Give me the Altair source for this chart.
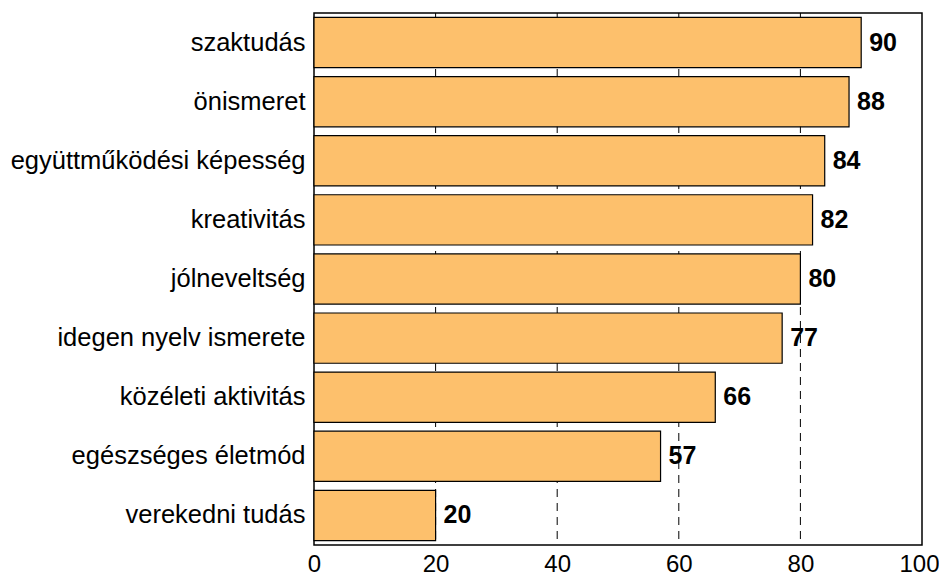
import altair as alt
import pandas as pd

categories = ["szaktudás", "önismeret", "együttműködési képesség", "kreativitás",
              "jólneveltség", "idegen nyelv ismerete", "közéleti aktivitás",
              "egészséges életmód", "verekedni tudás"]
values = [90, 88, 84, 82, 80, 77, 66, 57, 20]
grid_values = [20, 40, 60, 80]
tick_values = [0, 20, 40, 60, 80, 100]

df = pd.DataFrame({"cat": categories, "val": values})
gdf = pd.DataFrame({"g": grid_values})

FONT = "Liberation Sans"

x_scale = alt.Scale(domain=[0, 100], nice=False, zero=True)
y_sort = categories

grid = alt.Chart(gdf).mark_rule(color="black", strokeDash=[8, 6], strokeWidth=1).encode(
    x=alt.X("g:Q", scale=x_scale)
)

bars = alt.Chart(df).mark_bar(color="#FDC06C", stroke="black", strokeWidth=1.2).encode(
    x=alt.X("val:Q", scale=x_scale,
            axis=alt.Axis(values=tick_values, title=None, grid=False,
                          ticks=False, domain=False, labelFontSize=24, labelFont=FONT,
                          labelColor="black", labelPadding=7, labelFlush=False,
                          labelOverlap=False, labelBound=False,
                          labelOffset={"condition": {"test": "datum.value === 100", "value": -3},
                                       "value": 0})),
    y=alt.Y("cat:N", sort=y_sort, scale=alt.Scale(paddingInner=0.15, paddingOuter=0.075),
            axis=alt.Axis(title=None, ticks=False, domain=False, labelFontSize=25.5,
                          labelFont=FONT, labelColor="black", labelPadding=9,
                          labelLimit=400)),
)

labels = alt.Chart(df).mark_text(align="left", baseline="middle", dx=8, fontSize=25,
                                 fontWeight="bold", font=FONT, color="black").encode(
    x=alt.X("val:Q", scale=x_scale),
    y=alt.Y("cat:N", sort=y_sort),
    text=alt.Text("val:Q"),
)

chart = alt.layer(grid, bars, labels).properties(
    width=608, height=532, background="white",
    autosize=alt.AutoSizeParams(type="none"),
    padding={"left": 306, "top": 5, "right": 17, "bottom": 36},
).configure_view(stroke="black", strokeWidth=1.5)

chart.save("out.html", embed_options={"renderer": "svg", "actions": False})
